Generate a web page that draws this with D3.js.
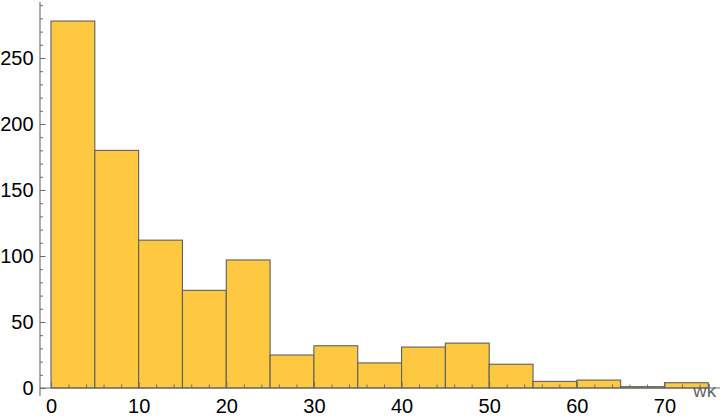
<!DOCTYPE html>
<html>
<head>
<meta charset="utf-8">
<script src="https://cdn.jsdelivr.net/npm/d3@7"></script>
<style>
  body { margin: 0; background: #fff; }
  svg { display: block; }
</style>
</head>
<body>
<script>
// histogram bins (width 5) and counts
var binStarts = [0, 5, 10, 15, 20, 25, 30, 35, 40, 45, 50, 55, 60, 65, 70];
var binWidth = 5;
var counts = [278, 180, 112, 74, 97, 25, 32, 19, 31, 34, 18, 5, 6, 1, 4];
var xMajor = [0, 10, 20, 30, 40, 50, 60, 70];
var yMajor = [0, 50, 100, 150, 200, 250];
var axisLabel = "wk";

var w = 720, h = 420;
var axisColor = "#6b6b6b";
var font = "'Liberation Sans', Arial, sans-serif";

var svg = d3.select("body").append("svg")
  .attr("width", w)
  .attr("height", h);

var x = d3.scaleLinear().domain([0, 75]).range([51, 708.3]);
var y = d3.scaleLinear().domain([0, 250]).range([388, 58]);

// bars
svg.selectAll("rect.bar")
  .data(binStarts)
  .enter()
  .append("rect")
  .attr("class", "bar")
  .attr("x", function(d) { return x(d); })
  .attr("y", function(d, i) { return y(counts[i]); })
  .attr("width", function(d) { return x(d + binWidth) - x(d); })
  .attr("height", function(d, i) { return y(0) - y(counts[i]); })
  .attr("fill", "#fec941")
  .attr("stroke", "#5f5f5f")
  .attr("stroke-width", 1.1);

// minor ticks
var yMinor = d3.range(0, 291, 10).filter(function(v) { return v % 50 != 0; });
var xMinor = d3.range(0, 76, 2).filter(function(v) { return v % 10 != 0; });

svg.append("g")
  .attr("transform", "translate(40,0)")
  .call(d3.axisLeft(y).tickValues(yMinor).tickSize(-3).tickFormat(""))
  .call(function(g) { g.select(".domain").remove(); });

svg.append("g")
  .attr("transform", "translate(0,388)")
  .call(d3.axisBottom(x).tickValues(xMinor).tickSize(-3.5).tickFormat(""))
  .call(function(g) { g.select(".domain").remove(); });

// major ticks + labels
var yAxis = svg.append("g")
  .attr("transform", "translate(40,0)")
  .call(d3.axisLeft(y).tickValues(yMajor).tickSize(-5.5).tickPadding(6.4))
  .call(function(g) { g.select(".domain").remove(); });

var xAxis = svg.append("g")
  .attr("transform", "translate(0,388)")
  .call(d3.axisBottom(x).tickValues(xMajor).tickSize(-6).tickPadding(11))
  .call(function(g) { g.select(".domain").remove(); });

svg.selectAll(".tick line").attr("stroke", axisColor).attr("stroke-width", 1);
svg.selectAll(".tick text")
  .attr("fill", "#000")
  .attr("font-family", font)
  .attr("font-size", 20);

// axis lines
svg.append("line")
  .attr("x1", 40).attr("x2", 40)
  .attr("y1", 2).attr("y2", 396)
  .attr("stroke", axisColor).attr("stroke-width", 1.1);

svg.append("line")
  .attr("x1", 40).attr("x2", 720)
  .attr("y1", 388).attr("y2", 388)
  .attr("stroke", axisColor).attr("stroke-width", 1.1);

svg.append("text")
  .attr("x", 693)
  .attr("y", 397)
  .attr("fill", "#666")
  .attr("font-family", font)
  .attr("font-size", 19)
  .text(axisLabel);
</script>
</body>
</html>
